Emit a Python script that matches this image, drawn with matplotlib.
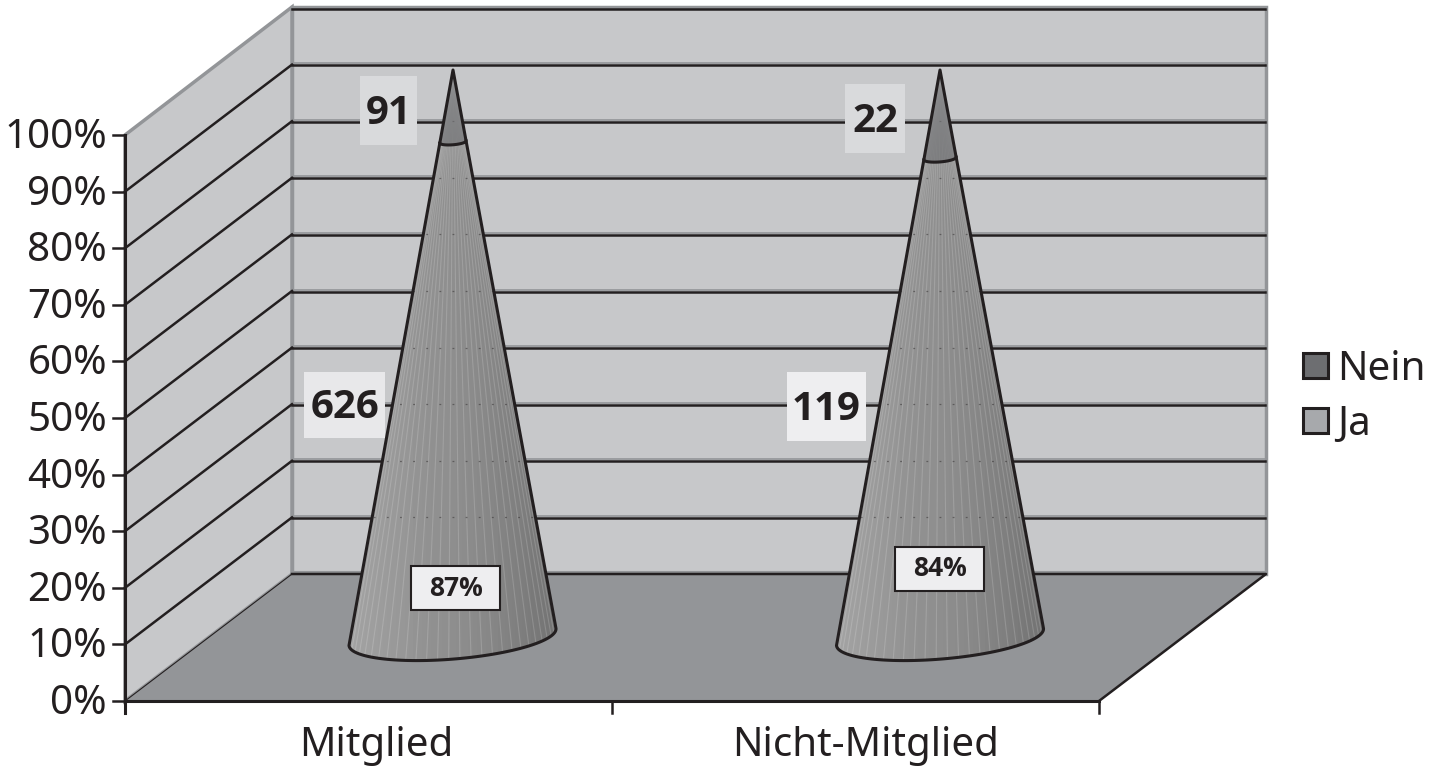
import numpy as np
import matplotlib
matplotlib.use('Agg')
import matplotlib.pyplot as plt
from matplotlib.patches import Polygon, Rectangle

plt.rcParams['font.family'] = ['Noto Sans', 'DejaVu Sans']

# data
categories = ['Mitglied', 'Nicht-Mitglied']
ja_counts = [626, 119]
nein_counts = [91, 22]
ja_labels = ['87%', '84%']
y_ticks = [0, 10, 20, 30, 40, 50, 60, 70, 80, 90, 100]
legend_names = ['Nein', 'Ja']

W, H = 1437, 767
X0, X1 = 125, 1099      # front floor edge
Y0, Y100 = 701, 135     # front 0% / 100%
DX, DY = 167, -127      # depth offset of the back wall

WALL = '#c7c8ca'
FLOOR = '#939598'
EDGE = '#231f20'
GREY_EDGE = '#939598'


def fy(v):
    return Y0 - (Y0 - Y100) * v / 100.0


fig = plt.figure(figsize=(W / 100, H / 100), dpi=100)
ax = fig.add_axes([0, 0, 1, 1])
ax.set_xlim(0, W)
ax.set_ylim(H, 0)
ax.axis('off')

# walls and floor
ax.add_patch(Polygon([(X0 + DX, fy(0) + DY), (X1 + DX, fy(0) + DY), (X1 + DX, fy(100) + DY - 1), (X0 + DX, fy(100) + DY - 1)],
                     fc=WALL, ec=GREY_EDGE, lw=2.5, zorder=1))
ax.add_patch(Polygon([(X0, fy(0)), (X0 + DX, fy(0) + DY), (X0 + DX, fy(100) + DY - 1), (X0, fy(100))],
                     fc=WALL, ec=GREY_EDGE, lw=2.5, zorder=1))
ax.add_patch(Polygon([(X0, fy(0)), (X1, fy(0)), (X1 + DX, fy(0) + DY), (X0 + DX, fy(0) + DY)],
                     fc=FLOOR, ec='none', zorder=2))

# grid lines, with the thin grey shadow above them on the back wall
for v in y_ticks[1:]:
    ax.plot([X0 + DX, X1 + DX], [fy(v) + DY - 1.5, fy(v) + DY - 1.5], color=GREY_EDGE, lw=1.2, zorder=2)
    ax.plot([X0 + DX, X1 + DX - 1], [fy(v) + DY + 0.5, fy(v) + DY + 0.5], color=EDGE, lw=1.8, zorder=2)
    if v < 100:
        ax.plot([X0, X0 + DX], [fy(v), fy(v) + DY], color=EDGE, lw=1.8, zorder=2)
ax.plot([X0, X0 + DX], [fy(0), fy(0) + DY], color=EDGE, lw=0.8, zorder=3)
ax.plot([X0 + DX, X1 + DX, X1], [fy(0) + DY, fy(0) + DY, fy(0)], color=EDGE, lw=1.8, zorder=3)
ax.plot([X0 + DX, X1 + DX], [fy(0) + DY - 2.5, fy(0) + DY - 2.5], color=GREY_EDGE, lw=1.5, zorder=2)

# axes
ax.plot([X0, X0], [fy(100), fy(0) + 12], color=EDGE, lw=2.2, zorder=4)
ax.plot([X0, X1], [fy(0), fy(0)], color=EDGE, lw=2.2, zorder=4)
for v in y_ticks:
    ax.plot([X0 - 12, X0], [fy(v), fy(v)], color=EDGE, lw=1.8, zorder=4)
    ax.text(X0 - 18, fy(v) + 3, '%d%%' % v, ha='right', va='center', fontsize=29, color=EDGE)
for i in range(len(categories) + 1):
    x = X0 + (X1 - X0) * i / len(categories)
    ax.plot([x, x], [fy(0), fy(0) + 12], color=EDGE, lw=1.8, zorder=4)

for name, cx in zip(categories, [376, 866]):
    ax.text(cx, 746, name, ha='center', va='center', fontsize=29, color=EDGE)


def draw_cone(apex_x, apex_y, base_cx, base_cy, nein_share):
    a = np.array([103.5, -8.5])
    b = np.array([1.8, 22.0])
    c = np.array([base_cx, base_cy], dtype=float)
    apex = np.array([apex_x, apex_y], dtype=float)
    t = np.linspace(0, np.pi, 80)
    arc = c + np.outer(np.cos(t), a) + np.outer(np.sin(t), b)
    outline = np.vstack([apex, arc])

    # shading of the body: light at the left edge, dark towards the right edge
    xs = np.linspace(-1, 1, 60)
    shade = np.where(xs > -0.2, 0.565 - 0.12 * ((xs + 0.2) / 1.2) ** 1.5, 0.64 - 0.075 * (xs + 1) / 0.8)
    extent = [c[0] - 106, c[0] + 106, c[1] + 26, apex[1]]

    body = Polygon(outline, closed=True, fc='none', ec='none', zorder=5)
    ax.add_patch(body)
    im = ax.imshow(shade[None, :], cmap='gray', vmin=0, vmax=1, aspect='auto', extent=extent,
                   interpolation='bilinear', zorder=5)
    im.set_clip_path(body)

    # thin facet seams running down from the tip
    for s in np.linspace(0, np.pi, 30)[1:-1]:
        end = c + np.cos(s) * a + np.sin(s) * b
        seam, = ax.plot([apex[0], end[0]], [apex[1], end[1]], color='white', lw=0.8, alpha=0.16, zorder=5)
        seam.set_clip_path(body)

    # grid lines showing through as dots
    for v in y_ticks[1:]:
        yy = fy(v) + DY
        dots, = ax.plot([c[0] - 106, c[0] + 106], [yy, yy], color=EDGE, lw=0.9, alpha=0.45,
                        ls=(0, (1.5, 9)), zorder=5)
        dots.set_clip_path(body)

    # top section, share of Nein
    mid = apex + nein_share * (c - apex)
    top_arc = mid + nein_share * (np.outer(np.cos(t), a) + np.outer(np.sin(t), b))
    ax.add_patch(Polygon(np.vstack([apex, top_arc]), closed=True, fc='#6d6e71', ec='none', alpha=0.6, zorder=6))

    ax.plot(top_arc[:, 0], top_arc[:, 1], color=EDGE, lw=2.2, zorder=7)
    ax.add_patch(Polygon(outline, closed=True, fc='none', ec=EDGE, lw=2.2, joinstyle='round', zorder=7))


apexes = [453, 940]
base_x = [452.5, 940]
for i in range(len(categories)):
    share = nein_counts[i] / (nein_counts[i] + ja_counts[i])
    draw_cone(apexes[i], 70, base_x[i], 637, share)


def count_label(text, x0, x1, y0, y1, col):
    ax.add_patch(Rectangle((x0, y0), x1 - x0, y1 - y0, fc=col, ec='none', zorder=8))
    ax.text((x0 + x1) / 2, (y0 + y1) / 2 + 3, text, ha='center', va='center', fontsize=29,
            family='Open Sans', fontweight='bold', color=EDGE, zorder=9)


count_label(str(nein_counts[0]), 360, 417, 76, 145, '#d9dadc')
count_label(str(ja_counts[0]), 304, 385, 372, 438, '#e8e8ea')
count_label(str(nein_counts[1]), 845, 905, 84, 153, '#d9dadc')
count_label(str(ja_counts[1]), 787, 866, 372, 441, '#eeeef0')

for text, x0, y0 in zip(ja_labels, [411, 895], [566, 547]):
    ax.add_patch(Rectangle((x0, y0), 89, 44, fc='#eeeef0', ec=EDGE, lw=1.5, zorder=8))
    ax.text(x0 + 44.5, y0 + 22, text, ha='center', va='center', fontsize=19,
            family='Open Sans', fontweight='bold', color=EDGE, zorder=9)

# legend
for name, col, y in zip(legend_names, ['#6d6e71', '#a7a9ac'], [353, 408]):
    ax.add_patch(Rectangle((1303, y), 25, 25, fc=col, ec=EDGE, lw=2.2, zorder=4))
    ax.text(1337, y + 17, name, ha='left', va='center', fontsize=29, color=EDGE)

ax.set_xlim(0, W)
ax.set_ylim(H, 0)
fig.savefig('out.png', dpi=100, facecolor='white')
